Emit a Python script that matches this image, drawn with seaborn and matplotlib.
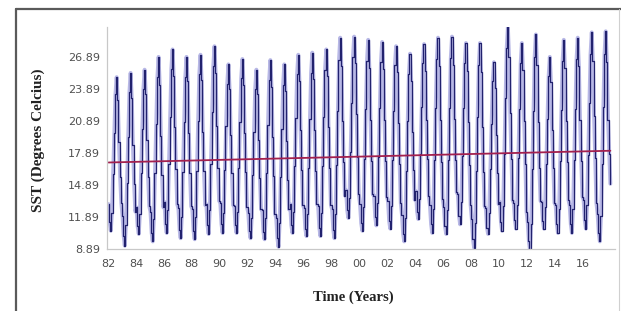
import numpy as np
import pandas as pd
import seaborn as sns
import matplotlib
matplotlib.use("Agg")
from matplotlib import pyplot as plt
from matplotlib.lines import Line2D

# monthly SST, Jan 1982 - Dec 2017 (one row per year)
sst = [
    13.1, 11.4, 10.6, 12.3, 15.9, 19.8, 23.4, 25.0, 22.9, 18.9, 15.6, 13.2,  # 1982
    12.0, 10.1, 9.2, 11.1, 15.1, 19.4, 23.6, 25.4, 23.0, 18.6, 15.0, 12.4,   # 1983
    12.8, 11.0, 10.3, 12.2, 16.0, 20.1, 23.9, 25.7, 23.4, 19.1, 15.6, 12.9,  # 1984
    12.4, 10.4, 9.6, 11.7, 16.0, 20.6, 25.0, 26.9, 24.3, 19.5, 15.8, 12.8,   # 1985
    13.3, 11.2, 10.4, 12.5, 16.9, 21.3, 25.8, 27.6, 25.1, 20.3, 16.4, 13.1,  # 1986
    12.7, 10.7, 9.9, 11.9, 16.1, 20.8, 25.0, 26.9, 24.6, 19.8, 16.0, 12.9,   # 1987
    12.6, 10.6, 9.8, 11.9, 16.2, 20.9, 25.3, 27.1, 24.7, 19.9, 16.2, 13.0,   # 1988
    13.1, 11.1, 10.3, 12.5, 16.9, 21.7, 26.0, 27.9, 25.4, 20.4, 16.5, 13.4,  # 1989
    13.2, 11.2, 10.4, 12.3, 16.3, 20.4, 24.4, 26.2, 23.9, 19.6, 16.0, 13.0,  # 1990
    12.9, 11.1, 10.4, 12.4, 16.5, 20.8, 24.9, 26.7, 24.3, 19.8, 16.1, 12.8,  # 1991
    12.3, 10.6, 9.9, 11.8, 15.8, 19.9, 23.9, 25.7, 23.4, 19.1, 15.5, 12.6,   # 1992
    12.5, 10.5, 9.8, 11.8, 16.0, 20.5, 24.7, 26.6, 24.1, 19.4, 15.7, 12.2,   # 1993
    11.8, 9.9, 9.1, 11.3, 15.6, 20.1, 24.3, 26.2, 23.7, 19.0, 15.4, 12.6,    # 1994
    13.1, 11.1, 10.4, 12.4, 16.7, 21.2, 25.3, 27.1, 24.6, 20.0, 16.3, 13.0,  # 1995
    12.7, 10.8, 10.1, 12.2, 16.5, 21.1, 25.4, 27.3, 24.8, 20.0, 16.2, 13.1,  # 1996
    12.9, 10.9, 10.1, 12.3, 16.7, 21.3, 25.7, 27.6, 25.1, 20.3, 16.5, 13.0,  # 1997
    12.6, 10.7, 9.9, 12.2, 16.8, 21.8, 26.6, 28.7, 26.0, 20.9, 17.0, 13.9,   # 1998
    14.4, 12.5, 11.8, 13.7, 18.0, 22.6, 26.9, 28.8, 26.3, 21.5, 17.5, 14.0,  # 1999
    13.1, 11.3, 10.6, 12.8, 17.3, 22.0, 26.5, 28.5, 25.9, 21.0, 17.1, 14.0,  # 2000
    13.9, 11.9, 11.1, 13.2, 17.5, 22.1, 26.4, 28.3, 25.8, 21.0, 17.1, 13.8,  # 2001
    13.4, 11.5, 10.8, 12.9, 17.2, 21.8, 26.1, 27.9, 25.5, 20.7, 16.9, 13.2,  # 2002
    12.1, 10.3, 9.6, 11.8, 16.2, 20.9, 25.3, 27.2, 24.6, 19.9, 16.3, 13.5,   # 2003
    14.3, 12.4, 11.7, 13.6, 17.8, 22.2, 26.3, 28.1, 25.6, 21.0, 17.3, 13.9,  # 2004
    13.0, 11.2, 10.4, 12.6, 17.2, 22.1, 26.7, 28.7, 26.0, 21.0, 17.0, 13.6,  # 2005
    12.8, 11.0, 10.3, 12.5, 17.2, 22.1, 26.8, 28.8, 26.1, 21.1, 17.2, 14.2,  # 2006
    14.0, 12.0, 11.2, 13.3, 17.6, 22.1, 26.3, 28.2, 25.6, 20.8, 16.8, 13.0,  # 2007
    11.7, 9.8, 9.0, 11.3, 16.2, 21.3, 26.1, 28.2, 25.5, 20.3, 16.1, 12.9,    # 2008
    12.7, 10.9, 10.3, 12.3, 16.4, 20.6, 24.6, 26.4, 24.0, 19.6, 16.0, 13.1,  # 2009
    13.3, 11.4, 10.6, 12.9, 17.8, 23.0, 27.7, 29.7, 26.9, 21.6, 17.3, 13.5,  # 2010
    13.2, 11.6, 10.8, 13.0, 17.4, 22.0, 26.3, 28.2, 25.7, 20.9, 16.9, 12.4,  # 2011
    11.4, 9.6, 8.8, 11.2, 16.4, 21.8, 26.9, 29.0, 26.1, 20.8, 16.5, 13.4,    # 2012
    13.3, 11.5, 10.8, 12.8, 16.9, 21.1, 25.1, 26.9, 24.5, 20.0, 16.5, 13.2,  # 2013
    13.0, 11.2, 10.4, 12.6, 17.1, 21.9, 26.5, 28.5, 25.9, 20.9, 17.0, 13.5,  # 2014
    13.0, 11.2, 10.4, 12.6, 17.2, 22.0, 26.7, 28.7, 26.0, 21.0, 17.1, 13.8,  # 2015
    13.5, 11.6, 10.8, 13.0, 17.7, 22.6, 27.2, 29.2, 26.5, 21.4, 17.4, 13.2,  # 2016
    12.2, 10.4, 9.6, 12.0, 16.9, 22.2, 27.2, 29.3, 26.4, 21.0, 17.8, 15.0,   # 2017
]
trend_ends = [17.0, 18.1]
ytick_vals = [8.89, 11.89, 14.89, 17.89, 20.89, 23.89, 26.89]
xtick_years = list(range(1982, 2017, 2))

dates = pd.date_range("1982-01-01", periods=len(sst), freq="MS") + pd.Timedelta(days=14)
df = pd.DataFrame({"date": dates, "sst": sst})
trend = pd.DataFrame({"date": [dates[0], dates[-1]], "sst": trend_ends})

sns.set_style("white")
plt.rcParams["font.family"] = ["DejaVu Sans"]

fig = plt.figure(figsize=(6.21, 3.11), dpi=100)
ax = fig.add_axes([107 / 621, 1 - 249 / 311, 508 / 621, 222 / 311])

# light halo + dark stepped line, like the original export
sns.lineplot(data=df, x="date", y="sst", ax=ax, color="#b8b8e6", lw=2.8, estimator=None)
sns.lineplot(data=df, x="date", y="sst", ax=ax, color="#22226e", lw=0.9, estimator=None,
             drawstyle="steps-mid")
sns.lineplot(data=trend, x="date", y="sst", ax=ax, color="#a3204f", lw=1.3, estimator=None)

ax.set_xlim(pd.Timestamp("1981-12-06"), pd.Timestamp("2018-04-15"))
ax.set_ylim(8.89, 29.7)
ax.set_yticks(ytick_vals)
ax.set_yticklabels([f"{v:.2f}" for v in ytick_vals])
ax.set_xticks([pd.Timestamp(f"{y}-01-01") for y in xtick_years])
ax.set_xticklabels([f"{y % 100:02d}" for y in xtick_years])
ax.tick_params(axis="both", direction="out", length=3, width=0.8, color="#aaaaaa",
               labelsize=8, labelcolor="#505050", pad=2)
ax.tick_params(axis="x", pad=4)

for s in ["top", "right"]:
    ax.spines[s].set_visible(False)
for s in ["left", "bottom"]:
    ax.spines[s].set_color("#c8c8c8")
    ax.spines[s].set_linewidth(0.9)

ax.set_xlabel("Time (Years)", family="Liberation Serif", fontweight="bold", fontsize=10.5, color="#222222")
ax.set_ylabel("SST (Degrees Celcius)", family="Liberation Serif", fontweight="bold", fontsize=11, color="#222222")
ax.xaxis.set_label_coords(0.484, -0.185)
ax.yaxis.set_label_coords(-0.122, 0.491)

# outer frame
fig.add_artist(Line2D([15.5 / 621, 1], [1 - 9 / 311, 1 - 9 / 311], transform=fig.transFigure, color="#5a5a5a", lw=1.6))
fig.add_artist(Line2D([15.5 / 621, 15.5 / 621], [0, 1 - 9 / 311], transform=fig.transFigure, color="#5a5a5a", lw=1.6))
fig.add_artist(Line2D([619 / 621, 619 / 621], [0, 1 - 9 / 311], transform=fig.transFigure, color="#d0d0d0", lw=0.8))

fig.savefig("out.png", dpi=100)
